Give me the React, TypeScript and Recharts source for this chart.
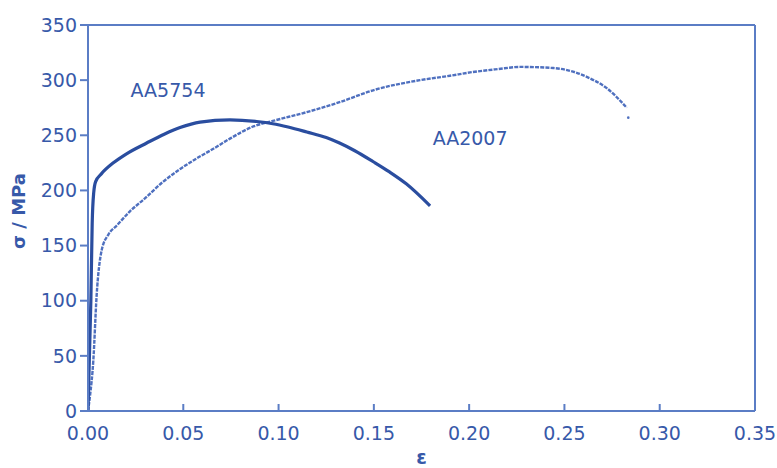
import React from 'react';
import { LineChart, Line, XAxis, YAxis, ReferenceLine, ReferenceDot } from 'recharts';

const xTicks = [0, 0.05, 0.1, 0.15, 0.2, 0.25, 0.3, 0.35];
const yTicks = [0, 50, 100, 150, 200, 250, 300, 350];

const aa5754Strain = [0, 0.0015, 0.0022, 0.003, 0.004, 0.007, 0.0133, 0.02, 0.0308, 0.04, 0.0483, 0.0588, 0.0745, 0.0885, 0.097, 0.105, 0.1148, 0.125, 0.132, 0.14, 0.1497, 0.158, 0.167, 0.1795];
const aa5754Stress = [0, 100, 170, 198, 208, 215, 225, 233, 243, 251, 257, 262, 264, 262.5, 260.5, 257.5, 253, 248, 243, 236, 226, 217, 206, 186];

const aa2007Strain = [0, 0.001, 0.0028, 0.0045, 0.0072, 0.0107, 0.015, 0.022, 0.03, 0.0395, 0.048, 0.057, 0.066, 0.0745, 0.0868, 0.097, 0.1148, 0.132, 0.15, 0.1742, 0.19, 0.2005, 0.215, 0.2267, 0.2442, 0.2617, 0.272, 0.2827];
const aa2007Stress = [0, 13, 46, 104, 146, 160, 168, 181, 193, 208, 219, 229, 238, 247, 258, 263, 271, 280, 291, 300, 304, 307, 310, 312, 311, 303, 293, 275];
const aa2007EndStrain = [0.2835];
const aa2007EndStress = [266];

const seriesLabels = [
  { name: 'AA5754', x: 0.042, y: 291 },
  { name: 'AA2007', x: 0.2005, y: 247.5 },
];

const aa5754 = aa5754Strain.map((x, i) => ({ x, y: aa5754Stress[i] }));
const aa2007 = aa2007Strain.map((x, i) => ({ x, y: aa2007Stress[i] }));
const aa2007End = aa2007EndStrain.map((x, i) => ({ x, y: aa2007EndStress[i] }));

const TEXT = '#3759a9';
const AXIS = '#5b7dc5';
const FONT = 'DejaVu Sans';

export default function App() {
  return (
    <div style={{ position: 'absolute', left: 0, top: 0, width: 777, height: 468, background: '#fff' }}>
      <LineChart width={777} height={468} margin={{ top: 25, right: 22, bottom: 0, left: 0 }}>
        <XAxis
          type="number"
          dataKey="x"
          domain={[0, 0.35]}
          ticks={xTicks}
          allowDataOverflow
          height={57}
          tickFormatter={(v: number) => v.toFixed(2)}
          stroke={AXIS}
          strokeWidth={2}
          tickSize={-7}
          tickMargin={23}
          tick={{ fill: TEXT, fontSize: 19, fontFamily: FONT }}
          label={(props: any) => {
            const vb = props.viewBox || {};
            return (
              <text x={vb.x + vb.width / 2} y={464} textAnchor="middle" fill={TEXT} fontSize={19} fontFamily={FONT} fontWeight="bold">
                ε
              </text>
            );
          }}
        />
        <YAxis
          type="number"
          dataKey="y"
          domain={[0, 350]}
          ticks={yTicks}
          allowDataOverflow
          width={88}
          stroke={AXIS}
          strokeWidth={2}
          tickSize={8}
          tickMargin={3}
          tick={{ fill: TEXT, fontSize: 19, fontFamily: FONT }}
          label={() => (
            <text x={25} y={211} transform="rotate(-90 25 211)" textAnchor="middle" fill={TEXT} fontSize={18} fontFamily={FONT} fontWeight="bold">
              σ / MPa
            </text>
          )}
        />
        <ReferenceLine y={350} stroke={AXIS} strokeWidth={2} />
        <ReferenceLine x={0.35} stroke={AXIS} strokeWidth={2} />
        <Line
          data={aa2007}
          dataKey="y"
          type="monotone"
          stroke="#4f70bf"
          strokeWidth={2.4}
          strokeDasharray="4 1.2"
          dot={false}
          isAnimationActive={false}
        />
        <Line
          data={aa2007End}
          dataKey="y"
          type="linear"
          stroke="none"
          dot={{ r: 1.3, fill: '#4f70bf', stroke: 'none' }}
          isAnimationActive={false}
        />
        <Line
          data={aa5754}
          dataKey="y"
          type="monotone"
          stroke="#2a4d9f"
          strokeWidth={3.2}
          dot={false}
          isAnimationActive={false}
        />
        {seriesLabels.map((l) => (
          <ReferenceDot
            key={l.name}
            x={l.x}
            y={l.y}
            r={0}
            stroke="none"
            fill="none"
            label={{ value: l.name, position: 'center', fill: TEXT, fontSize: 19, fontFamily: FONT }}
          />
        ))}
      </LineChart>
    </div>
  );
}
